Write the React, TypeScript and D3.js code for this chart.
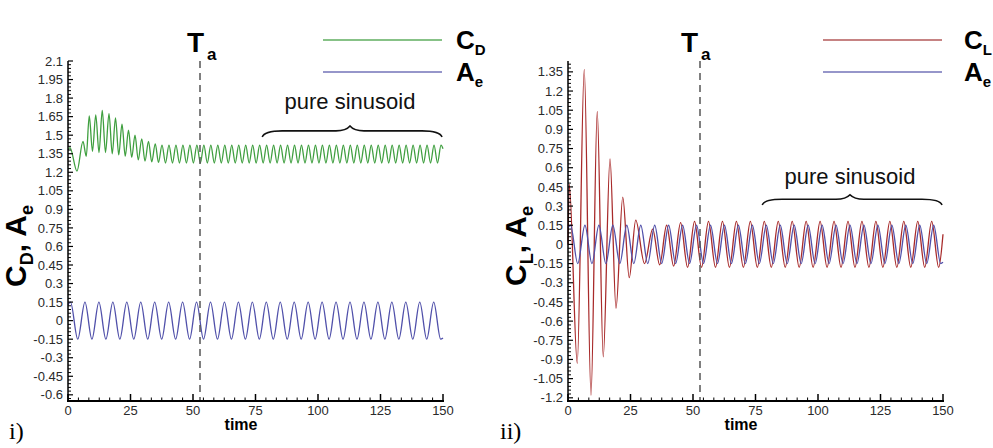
import React from "react";
import * as d3 from "d3";

// ---------- data ----------
const timeTickLabels = ["0", "25", "50", "75", "100", "125", "150"];
const cdTickLabels = ["-0.6", "-0.45", "-0.3", "-0.15", "0", "0.15", "0.3", "0.45", "0.6", "0.75", "0.9", "1.05", "1.2", "1.35", "1.5", "1.65", "1.8", "1.95", "2.1"];
const clTickLabels = ["-1.2", "-1.05", "-0.9", "-0.75", "-0.6", "-0.45", "-0.3", "-0.15", "0", "0.15", "0.3", "0.45", "0.6", "0.75", "0.9", "1.05", "1.2", "1.35"];

// A_e extrema (time, value)
const aeTime = [
  0, 1.0, 3.9, 6.78, 9.57, 12.36, 15.15, 17.94, 20.73, 23.52,
  26.31, 29.1, 31.89, 34.68, 37.47, 40.26, 43.05, 45.84, 48.63, 51.42,
  54.21, 57.0, 59.79, 62.58, 65.37, 68.16, 70.95, 73.74, 76.53, 79.32,
  82.11, 84.9, 87.69, 90.48, 93.27, 96.06, 98.85, 101.64, 104.43, 107.22,
  110.01, 112.8, 115.59, 118.38, 121.17, 123.96, 126.75, 129.54, 132.33, 135.12,
  137.91, 140.7, 143.49, 146.28, 149.07, 150,
];
const aeValue = [
  0.13, 0.15, -0.15, 0.15, -0.15, 0.15, -0.15, 0.15, -0.15, 0.15,
  -0.15, 0.15, -0.15, 0.15, -0.15, 0.15, -0.15, 0.15, -0.15, 0.15,
  -0.15, 0.15, -0.15, 0.15, -0.15, 0.15, -0.15, 0.15, -0.15, 0.15,
  -0.15, 0.15, -0.15, 0.15, -0.15, 0.15, -0.15, 0.15, -0.15, 0.15,
  -0.15, 0.15, -0.15, 0.15, -0.15, 0.15, -0.15, 0.15, -0.15, 0.15,
  -0.15, 0.15, -0.15, 0.15, -0.15, -0.14,
];

// C_D extrema
const cdTime = [
  0, 0.8, 3.6, 6.0, 7.3, 8.5, 9.8, 11.1, 12.4, 13.7,
  15.0, 16.4, 17.7, 19.0, 20.3, 21.6, 22.9, 24.2, 25.5, 26.8,
  28.1, 29.5, 30.8, 32.2, 33.5, 34.9, 36.2, 37.6, 39.0, 40.39,
  41.79, 43.18, 44.58, 45.97, 47.37, 48.76, 50.16, 51.55, 52.95, 54.34,
  55.74, 57.13, 58.53, 59.92, 61.32, 62.71, 64.11, 65.5, 66.9, 68.29,
  69.69, 71.08, 72.48, 73.87, 75.27, 76.66, 78.06, 79.45, 80.85, 82.24,
  83.64, 85.03, 86.43, 87.82, 89.22, 90.61, 92.01, 93.4, 94.8, 96.19,
  97.59, 98.98, 100.38, 101.77, 103.17, 104.56, 105.96, 107.35, 108.75, 110.14,
  111.54, 112.93, 114.33, 115.72, 117.12, 118.51, 119.91, 121.3, 122.7, 124.09,
  125.49, 126.88, 128.28, 129.67, 131.07, 132.46, 133.86, 135.25, 136.65, 138.04,
  139.44, 140.83, 142.23, 143.62, 145.02, 146.41, 147.81, 149.2, 150,
];
const cdValue = [
  1.38, 1.40, 1.21, 1.45, 1.33, 1.655, 1.37, 1.665, 1.36, 1.70,
  1.36, 1.675, 1.35, 1.64, 1.34, 1.59, 1.33, 1.54, 1.32, 1.50,
  1.30, 1.47, 1.29, 1.45, 1.285, 1.43, 1.28, 1.42, 1.275, 1.42,
  1.275, 1.42, 1.275, 1.42, 1.275, 1.42, 1.275, 1.42, 1.275, 1.42,
  1.275, 1.42, 1.275, 1.42, 1.275, 1.42, 1.275, 1.42, 1.275, 1.42,
  1.275, 1.42, 1.275, 1.42, 1.275, 1.42, 1.275, 1.42, 1.275, 1.42,
  1.275, 1.42, 1.275, 1.42, 1.275, 1.42, 1.275, 1.42, 1.275, 1.42,
  1.275, 1.42, 1.275, 1.42, 1.275, 1.42, 1.275, 1.42, 1.275, 1.42,
  1.275, 1.42, 1.275, 1.42, 1.275, 1.42, 1.275, 1.42, 1.275, 1.42,
  1.275, 1.42, 1.275, 1.42, 1.275, 1.42, 1.275, 1.42, 1.275, 1.42,
  1.275, 1.42, 1.275, 1.42, 1.275, 1.42, 1.275, 1.42, 1.39,
];

// C_L extrema
const clTime = [
  0, 0.5, 3.7, 6.5, 9.2, 11.7, 14.1, 16.8, 19.2, 21.9,
  24.5, 27.1, 30.6, 33.88, 36.67, 39.46, 42.25, 45.04, 47.83, 50.62,
  53.41, 56.2, 58.99, 61.78, 64.57, 67.36, 70.15, 72.94, 75.73, 78.52,
  81.31, 84.1, 86.89, 89.68, 92.47, 95.26, 98.05, 100.84, 103.63, 106.42,
  109.21, 112.0, 114.79, 117.58, 120.37, 123.16, 125.95, 128.74, 131.53, 134.32,
  137.11, 139.9, 142.69, 145.48, 148.27, 150,
];
const clValue = [
  0.0, 0.47, -0.93, 1.37, -1.18, 1.04, -0.88, 0.67, -0.5, 0.37,
  -0.26, 0.19, -0.15, 0.12, -0.16, 0.15, -0.17, 0.17, -0.18, 0.18,
  -0.18, 0.18, -0.18, 0.18, -0.18, 0.18, -0.18, 0.18, -0.18, 0.18,
  -0.18, 0.18, -0.18, 0.18, -0.18, 0.18, -0.18, 0.18, -0.18, 0.18,
  -0.18, 0.18, -0.18, 0.18, -0.18, 0.18, -0.18, 0.18, -0.18, 0.18,
  -0.18, 0.18, -0.18, 0.18, -0.18, 0.08,
];

const taTime = 52.8;
const sinusoidRange = [77.7, 112.8, 149.6];

// ---------- styling ----------
const SANS = "'Liberation Sans', Arial, Helvetica, sans-serif";
const SERIF = "'Liberation Serif', 'Times New Roman', serif";
const GREEN = "#3f9f3f";
const BLUE = "#5050aa";
const RED = "#a82a2a";

function zip(t: number[], v: number[]): [number, number][] {
  const n = Math.min(t.length, v.length);
  return d3.range(n).map((i) => [t[i], v[i]] as [number, number]);
}

type SeriesDef = { data: [number, number][]; color: string };

type PanelProps = {
  left: number;
  yDomain: [number, number];
  yTickLabels: string[];
  majorBase: number;
  series: SeriesDef[];
  sub1: string;
  legendColor: string;
  braceVals: [number, number, number];
  textVal: number;
  taDx: number;
  legendTextX: number;
  label: string;
  labelX: number;
};

function Panel(p: PanelProps) {
  const top = 61;
  const bottom = 401;
  const x = d3.scaleLinear().domain([0, 150]).range([p.left, p.left + 375]);
  const y = d3.scaleLinear().domain(p.yDomain).range([bottom, top]);
  const line = d3
    .line<[number, number]>()
    .x((d) => x(d[0]))
    .y((d) => y(d[1]))
    .curve(d3.curveMonotoneX);

  const yTicks = p.yTickLabels.map((s) => parseFloat(s));
  const minor: number[] = [];
  const kMin = Math.ceil((p.yDomain[0] - p.majorBase) / 0.03 - 1e-6);
  const kMax = Math.floor((p.yDomain[1] - p.majorBase) / 0.03 + 1e-6);
  for (let k = kMin; k <= kMax; k++) {
    if (((k % 5) + 5) % 5 !== 0) minor.push(p.majorBase + 0.03 * k);
  }
  const xMinor: number[] = [];
  for (let k = 0; k <= 36; k++) if (k % 6 !== 0) xMinor.push((k * 25) / 6);
  const xTicks = timeTickLabels.map((s) => parseFloat(s));

  const [b1, bm, b2] = sinusoidRange.map((t) => x(t));
  const [yEnd, yArm, yTip] = p.braceVals.map((v) => y(v));
  const brace = `M${b1},${yEnd} Q${b1 + 2},${yArm} ${b1 + 20},${yArm} L${bm - 14},${yArm} Q${bm - 4},${yArm} ${bm},${yTip} Q${bm + 4},${yArm} ${bm + 14},${yArm} L${b2 - 20},${yArm} Q${b2 - 2},${yArm} ${b2},${yEnd}`;

  const xTa = x(taTime);

  return (
    <g>
      {/* data */}
      {p.series.map((s, i) => (
        <path key={i} d={line(s.data) || ""} fill="none" stroke={s.color} strokeWidth={1.3} />
      ))}
      {/* T_a dashed line */}
      <line x1={xTa} x2={xTa} y1={top} y2={bottom} stroke="#555" strokeWidth={1.5} strokeDasharray="7,5" />
      <text x={xTa + p.taDx} y={52} fontFamily={SANS} fontWeight="bold" fontSize={28} fill="#000">T</text>
      <text x={xTa + p.taDx + 20} y={60} fontFamily={SANS} fontWeight="bold" fontSize={17} fill="#000">a</text>

      {/* axes */}
      <line x1={p.left} x2={p.left} y1={top} y2={bottom} stroke="#000" strokeWidth={1.5} />
      <line x1={p.left - 1} x2={p.left + 376} y1={bottom} y2={bottom} stroke="#000" strokeWidth={2.2} />
      {yTicks.map((v, i) => (
        <g key={"yt" + i}>
          <line x1={p.left} x2={p.left + 5} y1={y(v)} y2={y(v)} stroke="#000" strokeWidth={1.2} />
          <text x={p.left - 5} y={y(v) + 4.6} textAnchor="end" fontFamily={SANS} fontSize={13} fill="#2a2a2a">
            {p.yTickLabels[i]}
          </text>
        </g>
      ))}
      {minor.map((v, i) => (
        <line key={"ym" + i} x1={p.left} x2={p.left + 3} y1={y(v)} y2={y(v)} stroke="#000" strokeWidth={1} />
      ))}
      {xTicks.map((v, i) => (
        <g key={"xt" + i}>
          <line x1={x(v)} x2={x(v)} y1={bottom} y2={bottom - 7} stroke="#000" strokeWidth={1.5} />
          <text x={x(v)} y={bottom + 14} textAnchor="middle" fontFamily={SANS} fontSize={13} fill="#2a2a2a">
            {timeTickLabels[i]}
          </text>
        </g>
      ))}
      {xMinor.map((v, i) => (
        <line key={"xm" + i} x1={x(v)} x2={x(v)} y1={bottom} y2={bottom - 3.5} stroke="#000" strokeWidth={1} />
      ))}
      <text x={p.left + 173} y={430} textAnchor="middle" fontFamily={SANS} fontWeight="bold" fontSize={16} fill="#000">
        time
      </text>

      {/* y title */}
      <text
        transform={`translate(${p.left - 42},246) rotate(-90)`}
        textAnchor="middle"
        fontFamily={SANS}
        fontWeight="bold"
        fontSize={30}
        fill="#000"
      >
        C
        <tspan fontSize={18} dy={7}>{p.sub1}</tspan>
        <tspan dy={-7}>, A</tspan>
        <tspan fontSize={18} dy={7}>e</tspan>
      </text>

      {/* legend */}
      <line x1={x(102)} x2={x(149.6)} y1={40} y2={40} stroke={p.legendColor} strokeWidth={1.6} />
      <line x1={x(102)} x2={x(149.6)} y1={72} y2={72} stroke="#7373b8" strokeWidth={1.6} />
      <text x={p.legendTextX} y={49} fontFamily={SANS} fontWeight="bold" fontSize={26} fill="#000">
        C<tspan fontSize={15} dy={6}>{p.sub1}</tspan>
      </text>
      <text x={p.legendTextX} y={81} fontFamily={SANS} fontWeight="bold" fontSize={26} fill="#000">
        A<tspan fontSize={15} dy={6}>e</tspan>
      </text>

      {/* annotation */}
      <path d={brace} fill="none" stroke="#111" strokeWidth={1.6} />
      <text x={bm} y={y(p.textVal)} textAnchor="middle" fontFamily={SANS} fontSize={22} fill="#111">
        pure sinusoid
      </text>

      {/* panel label */}
      <text x={p.labelX} y={439} fontFamily={SERIF} fontSize={24} fill="#000">
        {p.label}
      </text>
    </g>
  );
}

export default function App() {
  const ae = zip(aeTime, aeValue);
  const cd = zip(cdTime, cdValue);
  const cl = zip(clTime, clValue);
  return (
    <svg
      width={993}
      height={448}
      viewBox="0 0 993 448"
      style={{ position: "absolute", left: 0, top: 0, background: "#fff" }}
    >
      <rect x={0} y={0} width={993} height={448} fill="#fff" />
      <Panel
        left={68}
        yDomain={[-0.65, 2.1]}
        yTickLabels={cdTickLabels}
        majorBase={-0.6}
        series={[
          { data: cd, color: GREEN },
          { data: ae, color: BLUE },
        ]}
        sub1="D"
        legendColor="#5fae5f"
        braceVals={[1.485, 1.535, 1.574]}
        textVal={1.71}
        taDx={-13}
        legendTextX={456}
        label="i)"
        labelX={9}
      />
      <Panel
        left={568}
        yDomain={[-1.225, 1.435]}
        yTickLabels={clTickLabels}
        majorBase={-1.2}
        series={[
          { data: cl, color: RED },
          { data: ae, color: BLUE },
        ]}
        sub1="L"
        legendColor="#b35a5a"
        braceVals={[0.308, 0.353, 0.388]}
        textVal={0.47}
        taDx={-19}
        legendTextX={964}
        label="ii)"
        labelX={500}
      />
    </svg>
  );
}
